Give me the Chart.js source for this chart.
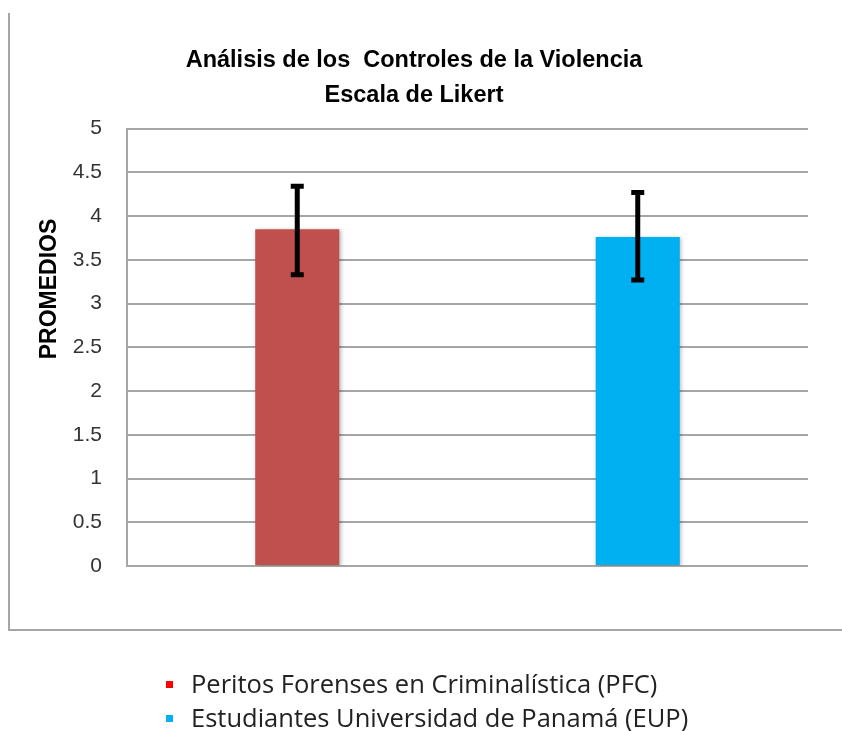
<!DOCTYPE html>
<html>
<head>
<meta charset="utf-8">
<script src="https://cdn.jsdelivr.net/npm/chart.js@4"></script>
<style>
  html,body{margin:0;padding:0;background:#fff;}
  body{width:842px;height:731px;position:relative;overflow:hidden;}
  #frame{position:absolute;left:8px;top:13px;width:900px;height:616px;border-left:2px solid #a6a6a6;border-bottom:2px solid #a6a6a6;}
  #wrap{position:absolute;left:0;top:0;width:842px;height:731px;}
  #legend{position:absolute;left:166px;top:666px;font-family:"Open Sans","Liberation Sans",sans-serif;font-size:25.5px;color:#222;}
  #legend .item{height:34px;line-height:34px;white-space:nowrap;}
  #legend .box{display:inline-block;width:7px;height:7px;margin-right:18px;vertical-align:middle;position:relative;top:-2px;}
</style>
</head>
<body>
<div id="frame"></div>
<div id="wrap"><canvas id="c" width="842" height="731"></canvas></div>
<div id="legend"></div>
<script>
// ---- data ----
const categories = ["PFC", "EUP"];
const seriesNames = ["Peritos Forenses en Criminalística (PFC)", "Estudiantes Universidad de Panamá (EUP)"];
const meanValues = [3.85, 3.76];
const errLow = [3.33, 3.27];
const errHigh = [4.34, 4.27];
const barColors = ["#C0504D", "#00B0F0"];
const legendColors = ["#FF0000", "#00B0F0"];
const yTickValues = [0, 0.5, 1, 1.5, 2, 2.5, 3, 3.5, 4, 4.5, 5];
const titleLines = ["Análisis de los  Controles de la Violencia", "Escala de Likert"];
const yAxisTitle = "PROMEDIOS";

// ---- legend (HTML) ----
const lg = document.getElementById('legend');
seriesNames.forEach((n, i) => {
  const d = document.createElement('div');
  d.className = 'item';
  const b = document.createElement('span');
  b.className = 'box';
  b.style.background = legendColors[i];
  d.appendChild(b);
  d.appendChild(document.createTextNode(n));
  lg.appendChild(d);
});

const errorBars = {
  id: 'errorBars',
  beforeDatasetDraw(chart) {
    const ctx = chart.ctx;
    ctx.save();
    ctx.shadowColor = 'rgba(0,0,0,0.28)';
    ctx.shadowBlur = 4;
    ctx.shadowOffsetX = 1.5;
    ctx.shadowOffsetY = 0.5;
  },
  afterDatasetDraw(chart) {
    chart.ctx.restore();
  },
  afterDatasetsDraw(chart) {
    const ctx = chart.ctx;
    const ys = chart.scales.y;
    const meta = chart.getDatasetMeta(0);
    ctx.save();
    ctx.strokeStyle = '#000';
    ctx.lineCap = 'butt';
    meta.data.forEach((bar, i) => {
      const x = bar.x;
      const yh = ys.getPixelForValue(errHigh[i]);
      const yl = ys.getPixelForValue(errLow[i]);
      ctx.lineWidth = 5;
      ctx.beginPath();
      ctx.moveTo(x, yh);
      ctx.lineTo(x, yl);
      ctx.stroke();
      ctx.beginPath();
      ctx.moveTo(x - 6.5, yh);
      ctx.lineTo(x + 6.5, yh);
      ctx.moveTo(x - 6.5, yl);
      ctx.lineTo(x + 6.5, yl);
      ctx.stroke();
    });
    ctx.restore();
  },
  afterDraw(chart) {
    const ctx = chart.ctx;
    ctx.save();
    ctx.font = 'bold 23px "Liberation Sans", Arial, sans-serif';
    ctx.fillStyle = '#000';
    ctx.textAlign = 'center';
    ctx.textBaseline = 'middle';
    ctx.translate(50, 289);
    ctx.rotate(-Math.PI / 2);
    ctx.fillText(yAxisTitle, 0, 0);
    ctx.restore();
  }
};

new Chart(document.getElementById('c'), {
  type: 'bar',
  data: {
    labels: categories,
    datasets: [{
      label: 'Promedio',
      data: meanValues,
      backgroundColor: barColors,
      borderWidth: 0,
      barPercentage: 0.247,
      categoryPercentage: 1.0
    }]
  },
  options: {
    responsive: false,
    animation: false,
    devicePixelRatio: 1,
    layout: { padding: { left: 20, right: 34, top: 0, bottom: 165 } },
    plugins: {
      legend: { display: false },
      tooltip: { enabled: false },
      title: {
        display: true,
        text: titleLines,
        color: '#000',
        font: { family: '"Liberation Sans", Arial, sans-serif', size: 23.5, weight: 'bold', lineHeight: 1.5 },
        padding: { top: 43, bottom: 15 }
      }
    },
    scales: {
      x: {
        display: false,
        grid: { display: false }
      },
      y: {
        min: 0,
        max: 5,
        afterBuildTicks(scale) {
          scale.ticks = yTickValues.map(v => ({ value: v }));
        },
        afterFit(scale) { scale.width = 107; },
        ticks: {
          stepSize: 0.5,
          padding: 25,
          color: '#333',
          font: { family: '"Liberation Sans", Arial, sans-serif', size: 21 },
          callback: v => String(v)
        },
        grid: { color: '#a6a6a6', lineWidth: 2, drawTicks: false },
        border: { display: true, color: '#a6a6a6', width: 2 }
      }
    }
  },
  plugins: [errorBars]
});
</script>
</body>
</html>
